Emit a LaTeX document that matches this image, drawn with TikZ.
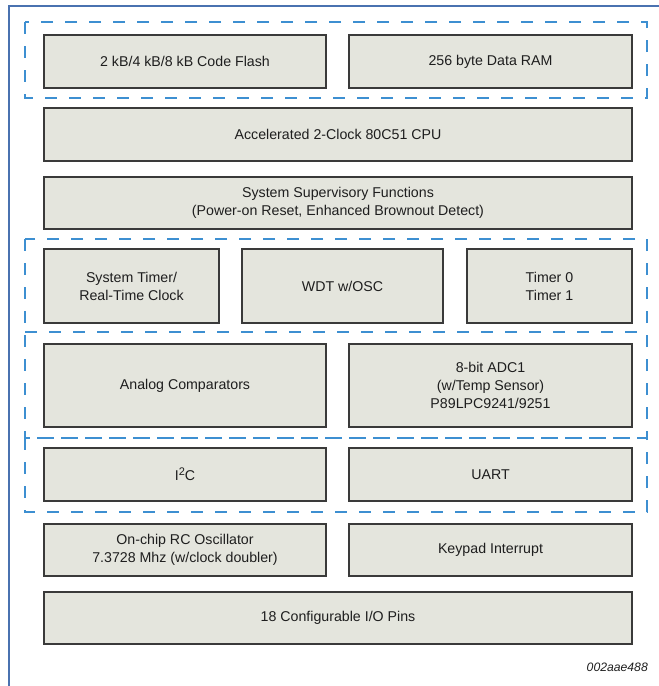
\documentclass[tikz,border=0pt]{standalone}
\usepackage{fontspec}
\setmainfont{Liberation Sans}
\definecolor{boxfill}{HTML}{E4E5DD}
\definecolor{boxline}{HTML}{3A3A3A}
\definecolor{dashblue}{HTML}{3D8FD1}
\definecolor{frameblue}{HTML}{4A72B0}
\definecolor{txt}{HTML}{1E1E1E}
\begin{document}
\begin{tikzpicture}[x=1pt,y=-1pt,
  blk/.style={draw=boxline, fill=boxfill, line width=1.1pt, inner sep=0pt, outer sep=0pt,
    align=center, text=txt, font=\fontsize{14.2}{18}\selectfont},
  grp/.style={draw=dashblue, line width=2.2pt, dash pattern=on 12pt off 12pt},
  frame/.style={draw=frameblue, line width=1.5pt}]
\useasboundingbox (0,0) rectangle (659,686);
\draw[frame] (9,686) -- (9,6) -- (659,6);
% boxes
\node[blk, minimum width=282pt, minimum height=53pt] (flash) at (185,61.5) {2 kB/4 kB/8 kB Code Flash};
\node[blk, minimum width=283pt, minimum height=53pt] (ram) at (490.5,61.5) {256 byte Data RAM};
\node[blk, minimum width=588pt, minimum height=53pt] (cpu) at (338,134.5) {Accelerated 2-Clock 80C51 CPU};
\node[blk, minimum width=588pt, minimum height=52pt] (ssf) at (338,203) {System Supervisory Functions\\(Power-on Reset, Enhanced Brownout Detect)};
\node[blk, minimum width=175pt, minimum height=74pt] (st) at (131.5,286) {System Timer/\\Real-Time Clock};
\node[blk, minimum width=201pt, minimum height=74pt] (wdt) at (342.5,286) {WDT w/OSC};
\node[blk, minimum width=165pt, minimum height=74pt] (tmr) at (549.5,286) {Timer 0\\Timer 1};
\node[blk, minimum width=282pt, minimum height=83pt] (ac) at (185,385.5) {Analog Comparators};
\node[blk, minimum width=283pt, minimum height=83pt] (adc) at (490.5,385.5) {8-bit ADC1\\(w/Temp Sensor)\\P89LPC9241/9251};
\node[blk, minimum width=282pt, minimum height=53pt] (i2c) at (185,474.5) {I\raisebox{5pt}{\fontsize{11}{12}\selectfont 2}C};
\node[blk, minimum width=283pt, minimum height=53pt] (uart) at (490.5,474.5) {UART};
\node[blk, minimum width=282pt, minimum height=52pt] (rc) at (185,550) {On-chip RC Oscillator\\7.3728 Mhz (w/clock doubler)};
\node[blk, minimum width=283pt, minimum height=52pt] (kp) at (490.5,550) {Keypad Interrupt};
\node[blk, minimum width=588pt, minimum height=52pt] (io) at (338,618) {18 Configurable I/O Pins};
% dashed groups
\draw[grp] (25,22) rectangle (647,98);
\draw[grp] (25,239) rectangle (647,438);
\draw[grp] (25,332) -- (647,332);
\draw[grp] (25,438) rectangle (647,512);
\node[anchor=base east, inner sep=0pt, text=txt, font=\fontsize{12.2}{14}\selectfont\itshape] (fig) at (648,671) {002aae488};
\end{tikzpicture}
\end{document}
